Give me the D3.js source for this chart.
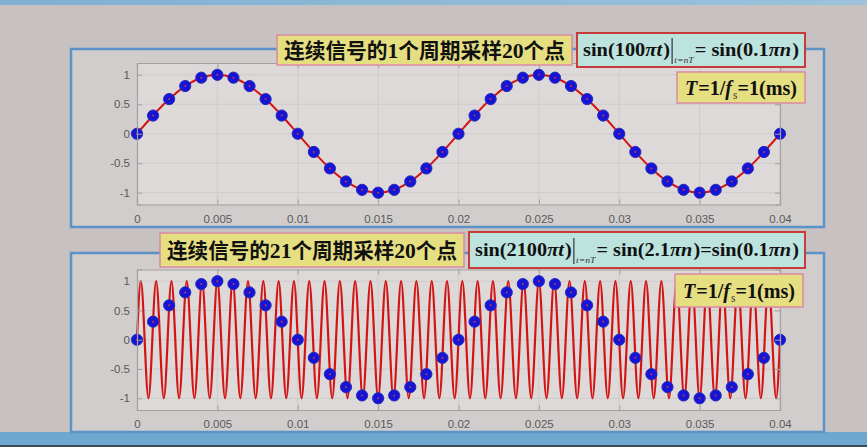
<!DOCTYPE html>
<html><head><meta charset="utf-8">
<script src="https://cdn.jsdelivr.net/npm/d3@7"></script>
<style>html,body{margin:0;padding:0;background:#c7c2c1;}svg{display:block;}</style>
</head><body>
<svg id="c" width="867" height="447"></svg>
<script>
// ---------- data ----------
const xTicks = [0, 0.005, 0.01, 0.015, 0.02, 0.025, 0.03, 0.035, 0.04];
const xTickLabels = ["0", "0.005", "0.01", "0.015", "0.02", "0.025", "0.03", "0.035", "0.04"];
const yTicks = [-1, -0.5, 0, 0.5, 1];
const yTickLabels = ["-1", "-0.5", "0", "0.5", "1"];
const sampleTimes = [0,0.001,0.002,0.003,0.004,0.005,0.006,0.007,0.008,0.009,0.010,0.011,0.012,0.013,0.014,0.015,0.016,0.017,0.018,0.019,0.020,0.021,0.022,0.023,0.024,0.025,0.026,0.027,0.028,0.029,0.030,0.031,0.032,0.033,0.034,0.035,0.036,0.037,0.038,0.039,0.040];
const sampleValues = [0,0.309,0.588,0.809,0.951,1,0.951,0.809,0.588,0.309,0,-0.309,-0.588,-0.809,-0.951,-1,-0.951,-0.809,-0.588,-0.309,0,0.309,0.588,0.809,0.951,1,0.951,0.809,0.588,0.309,0,-0.309,-0.588,-0.809,-0.951,-1,-0.951,-0.809,-0.588,-0.309,0];
// turning points of the 2100πt curve (42 cycles across 0..0.04), evenly spaced
const fastExtrema = [1,-1,1,-1,1,-1,1,-1,1,-1,1,-1,1,-1,1,-1,1,-1,1,-1,1,-1,1,-1,1,-1,1,-1,1,-1,1,-1,1,-1,1,-1,1,-1,1,-1,1,-1,1,-1,1,-1,1,-1,1,-1,1,-1,1,-1,1,-1,1,-1,1,-1,1,-1,1,-1,1,-1,1,-1,1,-1,1,-1,1,-1,1,-1,1,-1,1,-1,1,-1,1,-1];
const titles = ["连续信号的1个周期采样20个点", "连续信号的21个周期采样20个点"];

// ---------- drawing ----------
const svg = d3.select("#c");
svg.append("rect").attr("width",867).attr("height",447).attr("fill","#c7c2c1");
const tg = svg.append("defs").append("linearGradient").attr("id","topbar").attr("x1",0).attr("x2",1);
tg.append("stop").attr("offset",0).attr("stop-color","#7fb0d2");
tg.append("stop").attr("offset",1).attr("stop-color","#9cc2dc");
svg.append("rect").attr("x",0).attr("y",0).attr("width",867).attr("height",5).attr("fill","url(#topbar)");
svg.append("rect").attr("x",0).attr("y",432).attr("width",867).attr("height",13).attr("fill","#6ea7cf");
svg.append("rect").attr("x",0).attr("y",445).attr("width",867).attr("height",2).attr("fill","#3c4a55");

function chart(cfg) {
  const g = svg.append("g");
  g.append("rect").attr("x",cfg.frame[0]).attr("y",cfg.frame[1])
    .attr("width",cfg.frame[2]-cfg.frame[0]).attr("height",cfg.frame[3]-cfg.frame[1])
    .attr("fill","#d1cdcc").attr("stroke","#5b93c8").attr("stroke-width",2.5);
  const x = d3.scaleLinear().domain([0,0.04]).range([137,780]);
  const y = d3.scaleLinear().domain([-1.2,1.2]).range([cfg.bottom,cfg.top]);
  g.append("rect").attr("x",x(0)).attr("y",y(1.2)).attr("width",x(0.04)-x(0)).attr("height",y(-1.2)-y(1.2))
    .attr("fill","#dcd9d8");
  g.selectAll(".gx").data(xTicks).join("line").attr("x1",d=>x(d)).attr("x2",d=>x(d))
    .attr("y1",y(-1.2)).attr("y2",y(1.2)).attr("stroke","#cfcccb").attr("stroke-width",1);
  g.selectAll(".gy").data(yTicks).join("line").attr("y1",d=>y(d)).attr("y2",d=>y(d))
    .attr("x1",x(0)).attr("x2",x(0.04)).attr("stroke","#cfcccb").attr("stroke-width",1);
  let curvePts;
  if (cfg.fast) {
    const step = 0.04 / fastExtrema.length;
    curvePts = [[0,0]].concat(fastExtrema.map((v,i)=>[(i+0.5)*step, v])).concat([[0.04,0]]);
  } else {
    curvePts = sampleTimes.map((t,i)=>[t, sampleValues[i]]);
  }
  g.append("path").datum(curvePts)
    .attr("d", d3.line().x(d=>x(d[0])).y(d=>y(d[1])).curve(cfg.fast ? d3.curveMonotoneX : d3.curveCatmullRom))
    .attr("fill","none").attr("stroke","#d41414").attr("stroke-width",cfg.fast?2.2:2);
  const pts = sampleTimes.map((t,i)=>[t, sampleValues[i]]);
  g.selectAll(".m").data(pts).join("circle").attr("cx",d=>x(d[0])).attr("cy",d=>y(d[1]))
    .attr("r",5.6).attr("fill","#1515d6").attr("stroke","#2a2ab8").attr("stroke-width",1);
  g.selectAll(".md").data(pts).join("circle").attr("cx",d=>x(d[0])).attr("cy",d=>y(d[1]))
    .attr("r",1).attr("fill","#d43050");
  const axB = d3.axisBottom(x).tickValues(xTicks).tickFormat((d,i)=>xTickLabels[i]).tickSize(-5).tickPadding(10);
  const axT = d3.axisTop(x).tickValues(xTicks).tickFormat("").tickSize(-5);
  const axL = d3.axisLeft(y).tickValues(yTicks).tickFormat((d,i)=>yTickLabels[i]).tickSize(-5).tickPadding(7);
  const axR = d3.axisRight(y).tickValues(yTicks).tickFormat("").tickSize(-5);
  const ag = [
    g.append("g").attr("transform",`translate(0,${y(-1.2)})`).call(axB),
    g.append("g").attr("transform",`translate(0,${y(1.2)})`).call(axT),
    g.append("g").attr("transform",`translate(${x(0)},0)`).call(axL),
    g.append("g").attr("transform",`translate(${x(0.04)},0)`).call(axR)
  ];
  ag.forEach(a=>{
    a.selectAll("path").attr("stroke","#a3a09f").attr("stroke-width",1.2);
    a.selectAll("line").attr("stroke","#a3a09f");
    a.selectAll("text").attr("fill","#5a5a5a").attr("font-family","Liberation Sans, Arial, sans-serif").attr("font-size",11.5);
  });
  const tb = cfg.titleBox;
  g.append("rect").attr("x",tb[0]).attr("y",tb[1]).attr("width",tb[2]-tb[0]).attr("height",tb[3]-tb[1])
    .attr("fill","#e6df82").attr("stroke","#d98aa2").attr("stroke-width",1.5);
  const tt = g.append("text").attr("x",tb[0]+7).attr("y",(tb[1]+tb[3])/2+7.5)
    .attr("font-size",21).attr("font-weight","bold").attr("fill","#111")
    .attr("font-family","Noto Sans CJK SC, sans-serif");
  cfg.title.split(/(\d+)/).forEach(s=>{
    if (!s) return;
    const sp = tt.append("tspan").text(s);
    if (/\d/.test(s)) sp.attr("font-family","Liberation Serif, serif").attr("font-size",22);
  });
  tt.attr("textLength", tb[2]-tb[0]-14).attr("lengthAdjust","spacingAndGlyphs");
  const fb = cfg.formBox;
  g.append("rect").attr("x",fb[0]).attr("y",fb[1]).attr("width",fb[2]-fb[0]).attr("height",fb[3]-fb[1])
    .attr("fill","#bde3df").attr("stroke","#c93a3a").attr("stroke-width",2);
  rich(g, fb[0]+6, (fb[1]+fb[3])/2+6, cfg.formula, fb[2]-fb[0]-12, 19);
  const Tb = cfg.tBox;
  g.append("rect").attr("x",Tb[0]).attr("y",Tb[1]).attr("width",Tb[2]-Tb[0]).attr("height",Tb[3]-Tb[1])
    .attr("fill","#e6df82").attr("stroke","#d98aa2").attr("stroke-width",1.5);
  rich(g, Tb[0]+8, (Tb[1]+Tb[3])/2+7, [
    {t:"T", i:true},{t:"=1/"},{t:"f", i:true},{t:"s", sub:true, size:12, dy:4},{t:"=1(ms)"}
  ], Tb[2]-Tb[0]-16, 21);
}

function rich(g, x0, yb, parts, targetW, fs) {
  const grp = g.append("g");
  let cx = 0;
  parts.forEach(p=>{
    if (p.bar) {
      grp.append("line").attr("x1",cx+2).attr("x2",cx+2).attr("y1",-18).attr("y2",8)
        .attr("stroke","#222").attr("stroke-width",1);
      cx += 4; return;
    }
    const t = grp.append("text").attr("x",cx).attr("y",(p.dy||0))
      .attr("font-family","Liberation Serif, Times New Roman, serif")
      .attr("font-size",p.size||fs).attr("font-weight",p.sub?"normal":"bold")
      .attr("font-style",p.i?"italic":"normal").attr("fill",p.sub?"#333":"#111").text(p.t);
    cx += t.node().getComputedTextLength() + (p.i?1:0);
  });
  const s = targetW / cx;
  grp.attr("transform",`translate(${x0},${yb}) scale(${s},1)`);
}

const formula1 = [
  {t:"sin(100"},{t:"πt", i:true},{t:")"},{bar:true},{t:"t=nT", i:true, sub:true, size:9, dy:7},
  {t:" = sin(0.1"},{t:"πn", i:true},{t:")"}
];
const formula2 = [
  {t:"sin(2100"},{t:"πt", i:true},{t:")"},{bar:true},{t:"t=nT", i:true, sub:true, size:9, dy:7},
  {t:" = sin(2.1"},{t:"πn", i:true},{t:")=sin(0.1"},{t:"πn", i:true},{t:")"}
];

chart({frame:[71,49,824,227], top:63, bottom:204.5, fast:false,
  titleBox:[277,35,572,65], title:titles[0], formBox:[577,33,805,67], formula:formula1, tBox:[677,72,805,103]});
chart({frame:[71,253,824,432], top:269.5, bottom:410, fast:true,
  titleBox:[160,233,464,267], title:titles[1], formBox:[469,232,805,268], formula:formula2, tBox:[675,274,803,307]});
</script>
</body></html>
